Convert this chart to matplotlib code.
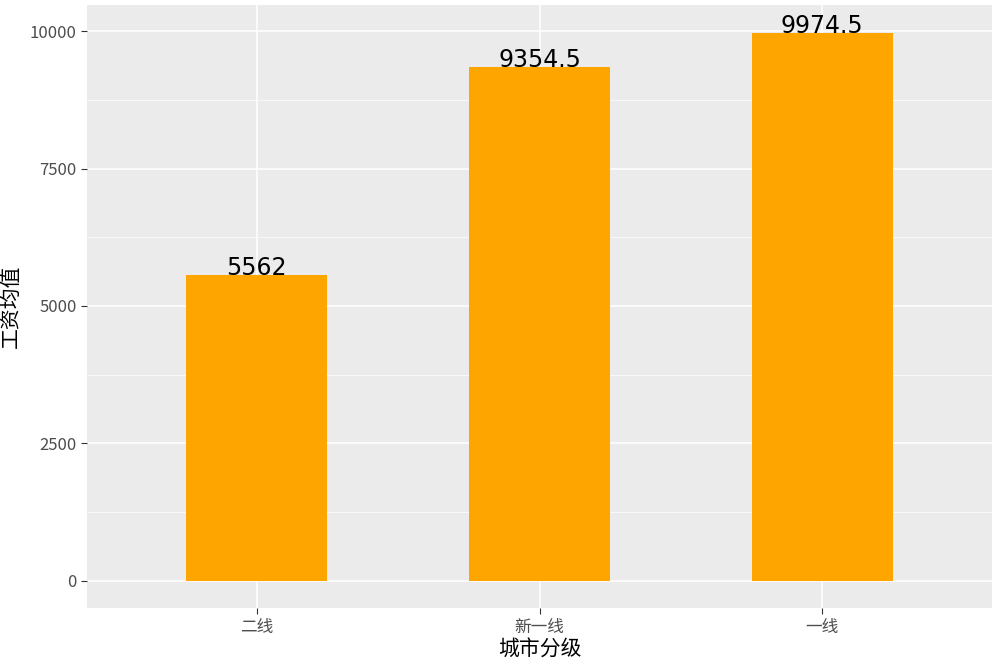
import matplotlib.pyplot as plt
from matplotlib.ticker import MultipleLocator

plt.rcParams['font.family'] = ['Noto Sans CJK SC', 'DejaVu Sans']

cities = ['二线', '新一线', '一线']
salary = [5562, 9354.5, 9974.5]
yticks = [0, 2500, 5000, 7500, 10000]

fig = plt.figure(figsize=(10, 6.61), dpi=100)
ax = fig.add_axes([0.087, 0.080, 0.905, 0.912])
ax.set_facecolor('#ebebeb')

x = list(range(1, len(cities) + 1))
ax.bar(x, salary, width=0.5, color='#ffa500', zorder=3)
for xi, v in zip(x, salary):
    ax.text(xi, v, f'{v:g}', ha='center', va='baseline', fontsize=17,
            family='DejaVu Sans', color='black', zorder=4)

ax.set_xlim(0.4, 3.6)
ax.set_ylim(-498.7, 10473)
ax.set_xticks(x)
ax.set_xticklabels(cities)
ax.set_yticks(yticks)
ax.yaxis.set_minor_locator(MultipleLocator(1250))
ax.grid(which='major', color='white', linewidth=1.1, zorder=0)
ax.grid(which='minor', axis='y', color='white', linewidth=0.5, zorder=0)
ax.set_axisbelow(True)
for s in ax.spines.values():
    s.set_visible(False)
ax.tick_params(which='both', length=4, color='#333333', labelcolor='#4d4d4d', labelsize=12)
ax.tick_params(which='minor', length=0)
ax.set_xlabel('城市分级', fontsize=15, labelpad=2)
ax.set_ylabel('工资均值', fontsize=15, labelpad=6)

fig.savefig('out.png')
